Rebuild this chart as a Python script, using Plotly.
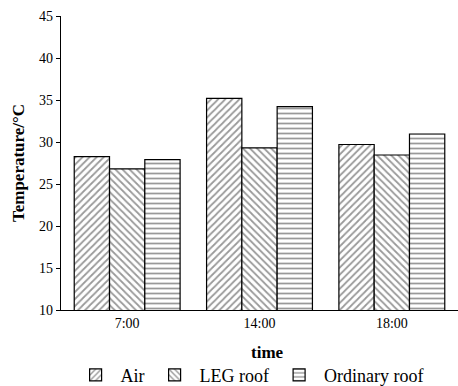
import plotly.graph_objects as go

categories = ["7:00", "14:00", "18:00"]
air = [28.25, 35.2, 29.7]
leg_roof = [26.8, 29.3, 28.45]
ordinary_roof = [27.9, 34.2, 30.95]

series = [("Air", air, "/"), ("LEG roof", leg_roof, "\\"), ("Ordinary roof", ordinary_roof, "-")]

fig = go.Figure()
for name, vals, shp in series:
    fig.add_trace(go.Bar(
        x=categories, y=vals, name=name,
        marker=dict(color="white", line=dict(color="black", width=1.2),
                    pattern=dict(shape=shp, fgcolor="#333333", bgcolor="white",
                                 size=5, solidity=0.35, fillmode="overlay")),
    ))

serif = "Liberation Serif, Times New Roman, serif"
fig.update_layout(
    width=458, height=386,
    margin=dict(l=61, r=0, t=16, b=76, autoexpand=False),
    paper_bgcolor="white", plot_bgcolor="white",
    barmode="group", bargap=0.2, bargroupgap=0,
    font=dict(family=serif, size=14, color="black"),
    showlegend=True,
    legend=dict(orientation="h", x=0.545, xanchor="center", xref="container",
                y=0.028, yanchor="middle", yref="container",
                font=dict(size=18, family=serif), itemwidth=40, tracegroupgap=0,
                bgcolor="rgba(0,0,0,0)"),
    xaxis=dict(range=[-0.5, 2.5], showline=True, linecolor="black", linewidth=1.2,
               ticks="", showgrid=False, automargin=False),
    yaxis=dict(range=[10, 45], tickvals=[10, 15, 20, 25, 30, 35, 40, 45],
               showline=True, linecolor="black", linewidth=1.2, automargin=False,
               ticks="outside", ticklen=4, tickcolor="black", showgrid=False, zeroline=False,
               title=dict(text="<b>Temperature/°C</b>", font=dict(size=17, family=serif), standoff=10)),
    annotations=[dict(text="<b>time</b>", xref="paper", yref="paper", x=0.519, y=-0.146,
                      xanchor="center", yanchor="middle", showarrow=False,
                      font=dict(size=17, family=serif))],
)
fig.write_html("out.html")
